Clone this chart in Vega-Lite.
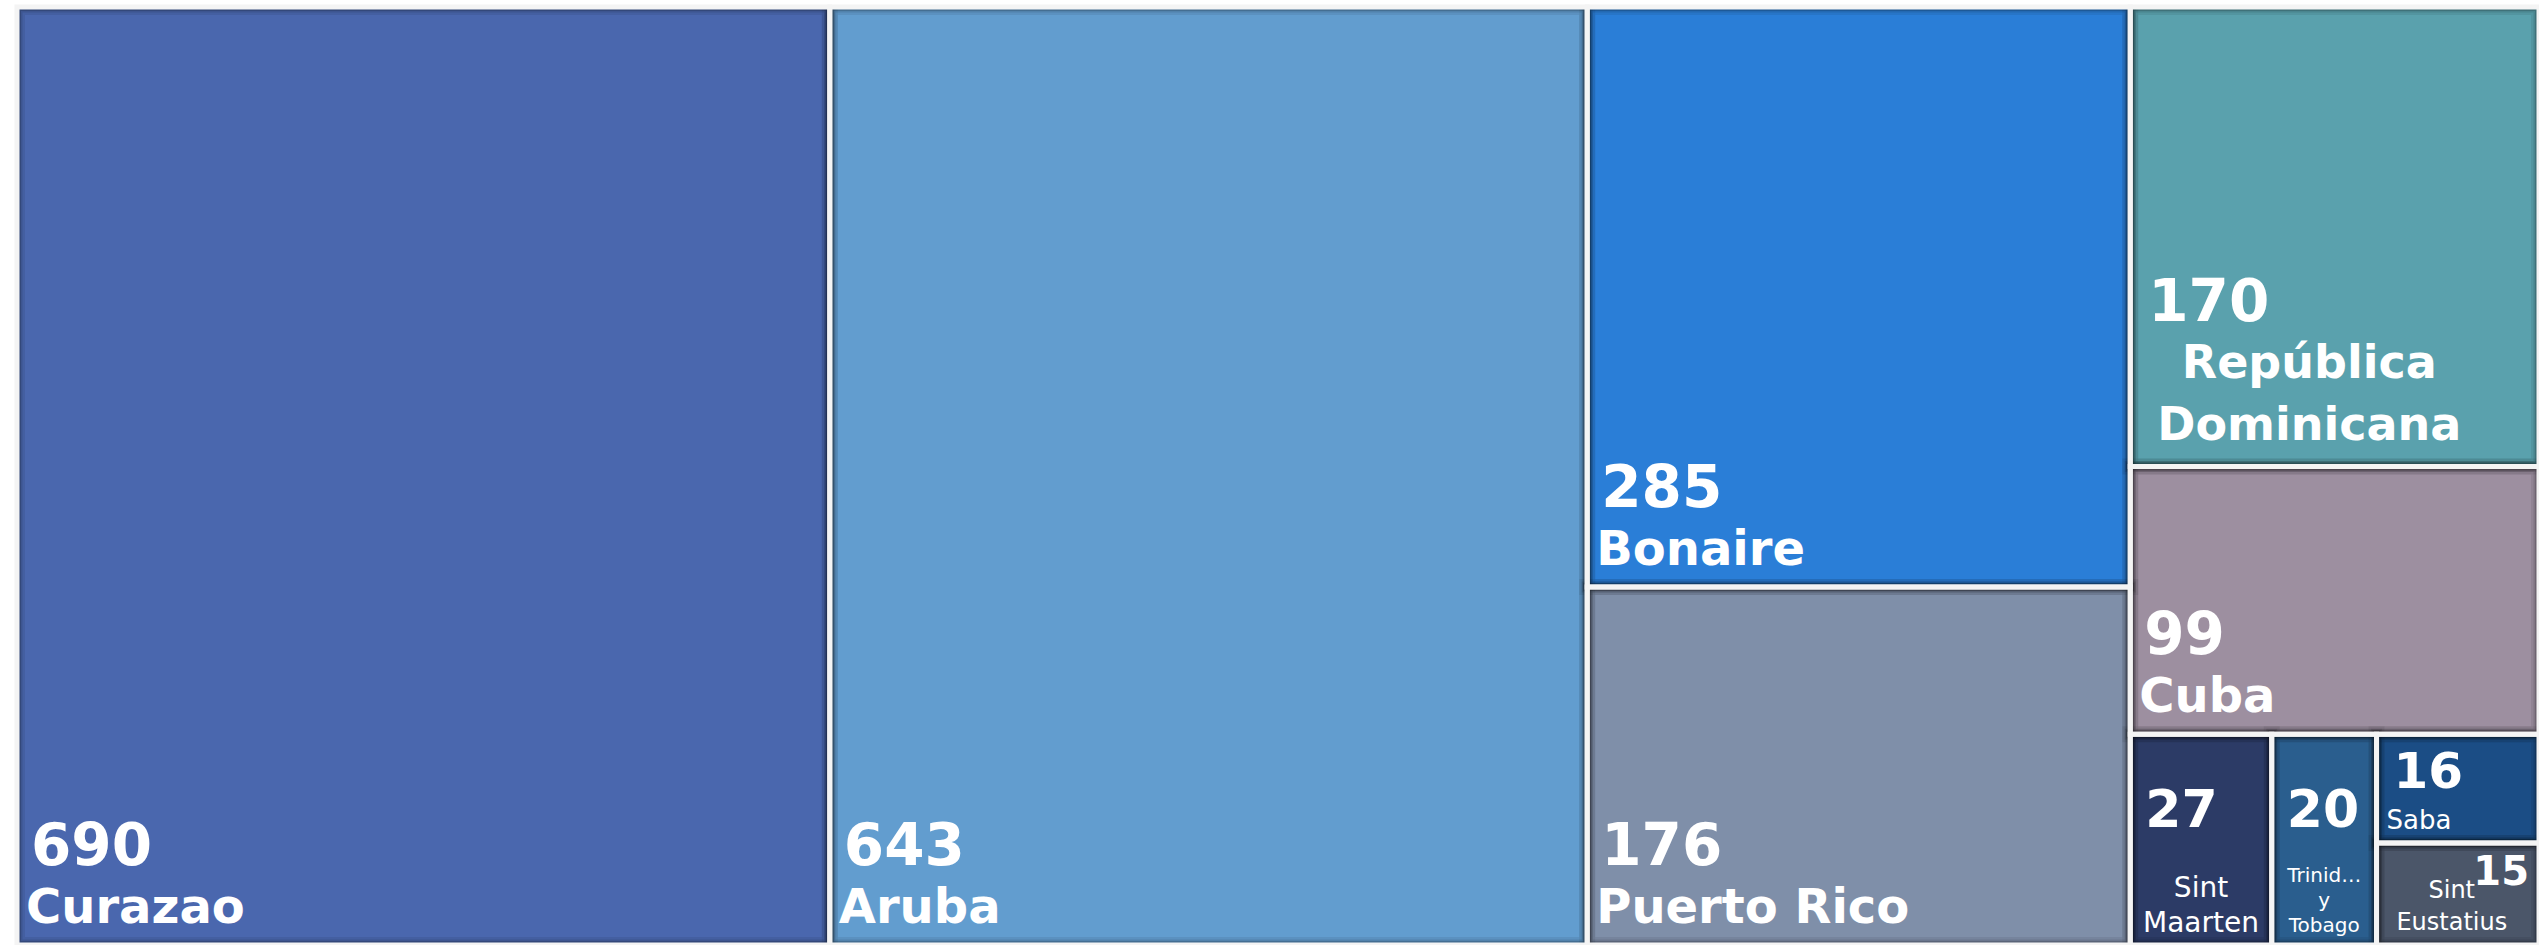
{
  "$schema": "https://vega.github.io/schema/vega-lite/v6.json",
  "width": 2522,
  "height": 938,
  "padding": {"left": 17, "top": 7, "right": 0, "bottom": 0},
  "autosize": {"type": "none"},
  "background": "white",
  "config": {"view": {"stroke": null}, "text": {"font": "DejaVu Sans", "color": "white"}},
  "data": {
    "values": [
      {"name": "Curazao", "value": 690, "col": 1, "grp": 1, "sub": 1, "cell": 1},
      {"name": "Aruba", "value": 643, "col": 2, "grp": 1, "sub": 1, "cell": 1},
      {"name": "Bonaire", "value": 285, "col": 3, "grp": 1, "sub": 1, "cell": 1},
      {"name": "Puerto Rico", "value": 176, "col": 3, "grp": 2, "sub": 1, "cell": 1},
      {"name": "República Dominicana", "value": 170, "col": 4, "grp": 1, "sub": 1, "cell": 1},
      {"name": "Cuba", "value": 99, "col": 4, "grp": 2, "sub": 1, "cell": 1},
      {"name": "Sint Maarten", "value": 27, "col": 4, "grp": 3, "sub": 1, "cell": 1},
      {"name": "Trinidad y Tobago", "value": 20, "col": 4, "grp": 3, "sub": 2, "cell": 1},
      {"name": "Saba", "value": 16, "col": 4, "grp": 3, "sub": 3, "cell": 1},
      {"name": "Sint Eustatius", "value": 15, "col": 4, "grp": 3, "sub": 3, "cell": 2}
    ]
  },
  "transform": [
    {"window": [{"op": "sum", "field": "value", "as": "cumAll"}], "sort": [{"field": "col"}, {"field": "grp"}, {"field": "sub"}, {"field": "cell"}], "frame": [null, 0]},
    {"joinaggregate": [{"op": "sum", "field": "value", "as": "A"}, {"op": "max", "field": "cumAll", "as": "aEnd"}], "groupby": ["col"]},
    {"window": [{"op": "sum", "field": "value", "as": "cumA"}], "groupby": ["col"], "sort": [{"field": "grp"}, {"field": "sub"}, {"field": "cell"}], "frame": [null, 0]},
    {"joinaggregate": [{"op": "sum", "field": "value", "as": "B"}, {"op": "max", "field": "cumA", "as": "bEnd"}], "groupby": ["col", "grp"]},
    {"window": [{"op": "sum", "field": "value", "as": "cumB"}], "groupby": ["col", "grp"], "sort": [{"field": "sub"}, {"field": "cell"}], "frame": [null, 0]},
    {"joinaggregate": [{"op": "sum", "field": "value", "as": "C"}, {"op": "max", "field": "cumB", "as": "cEnd"}], "groupby": ["col", "grp", "sub"]},
    {"window": [{"op": "sum", "field": "value", "as": "cumC"}], "groupby": ["col", "grp", "sub"], "sort": [{"field": "cell"}], "frame": [null, 0]},
    {"calculate": "datum.aEnd - datum.A", "as": "xa0"},
    {"calculate": "(datum.bEnd - datum.B) / datum.A", "as": "yb0"},
    {"calculate": "datum.bEnd / datum.A", "as": "yb1"},
    {"calculate": "datum.xa0 + datum.A * (datum.cEnd - datum.C) / datum.B", "as": "x0"},
    {"calculate": "datum.xa0 + datum.A * datum.cEnd / datum.B", "as": "x1"},
    {"calculate": "(datum.x0 + datum.x1) / 2", "as": "xm"},
    {"calculate": "datum.yb0 + (datum.yb1 - datum.yb0) * (datum.cumC - datum.value) / datum.C", "as": "y0"},
    {"calculate": "datum.yb0 + (datum.yb1 - datum.yb0) * datum.cumC / datum.C", "as": "y1"}
  ],
  "encoding": {
    "x": {"field": "x0", "type": "quantitative", "scale": {"nice": false, "zero": true}, "axis": null},
    "y": {"field": "y0", "type": "quantitative", "scale": {"nice": false, "reverse": true, "domain": [0, 1]}, "axis": null}
  },
  "layer": [
    {
      "mark": {"type": "rect", "strokeWidth": 0},
      "encoding": {
        "x2": {"field": "x1"},
        "y2": {"field": "y1"},
        "color": {
          "field": "name", "type": "nominal", "legend": null,
          "scale": {
            "domain": ["Curazao", "Aruba", "Bonaire", "Puerto Rico", "República Dominicana", "Cuba", "Sint Maarten", "Trinidad y Tobago", "Saba", "Sint Eustatius"],
            "range": ["#4A67AE", "#629DCF", "#2A7ED7", "#7F8FA9", "#5AA1AD", "#9D8FA0", "#2C3B66", "#2A5E8E", "#1B4D85", "#4B5669"]
          }
        }
      }
    },
    {
      "mark": {"type": "rect", "filled": false, "stroke": "#000000", "strokeOpacity": 0.07, "strokeWidth": 16, "clip": true},
      "encoding": {"x2": {"field": "x1"}, "y2": {"field": "y1"}}
    },
    {
      "mark": {"type": "rect", "filled": false, "stroke": "#000000", "strokeOpacity": 0.1, "strokeWidth": 11, "clip": true},
      "encoding": {"x2": {"field": "x1"}, "y2": {"field": "y1"}}
    },
    {
      "mark": {"type": "rect", "filled": false, "stroke": "#000000", "strokeOpacity": 0.15, "strokeWidth": 8, "clip": true},
      "encoding": {"x2": {"field": "x1"}, "y2": {"field": "y1"}}
    },
    {
      "mark": {"type": "rect", "filled": false, "stroke": "#f4f4f4", "strokeWidth": 5},
      "encoding": {"x2": {"field": "x1"}, "y2": {"field": "y1"}}
    },
    {
      "transform": [{"filter": "datum.value >= 90 && datum.name != 'República Dominicana'"}],
      "mark": {"type": "text", "align": "left", "baseline": "alphabetic", "fontWeight": "bold", "fontSize": 58, "dx": 14, "dy": -80},
      "encoding": {"y": {"field": "y1", "type": "quantitative"}, "text": {"field": "value", "type": "quantitative"}}
    },
    {
      "transform": [{"filter": "datum.value >= 90 && datum.name != 'República Dominicana'"}],
      "mark": {"type": "text", "align": "left", "baseline": "alphabetic", "fontWeight": "bold", "fontSize": 48, "dx": 9, "dy": -22},
      "encoding": {"y": {"field": "y1", "type": "quantitative"}, "text": {"field": "name", "type": "nominal"}}
    },
    {
      "transform": [{"filter": "datum.name == 'República Dominicana'"}],
      "mark": {"type": "text", "align": "left", "baseline": "alphabetic", "fontWeight": "bold", "fontSize": 58, "dx": 18, "dy": -146},
      "encoding": {"y": {"field": "y1", "type": "quantitative"}, "text": {"field": "value", "type": "quantitative"}}
    },
    {
      "transform": [{"filter": "datum.name == 'República Dominicana'"}],
      "mark": {"type": "text", "align": "center", "baseline": "alphabetic", "fontWeight": "bold", "fontSize": 46, "lineHeight": 62, "lineBreak": " ", "dx": 179, "dy": -89},
      "encoding": {"y": {"field": "y1", "type": "quantitative"}, "text": {"field": "name", "type": "nominal"}}
    },
    {
      "transform": [{"filter": "datum.name == 'Sint Maarten' || datum.name == 'Trinidad y Tobago'"}],
      "mark": {"type": "text", "align": "left", "baseline": "alphabetic", "fontWeight": "bold", "fontSize": 52, "dx": 15, "dy": -118},
      "encoding": {"y": {"field": "y1", "type": "quantitative"}, "text": {"field": "value", "type": "quantitative"}}
    },
    {
      "transform": [{"filter": "datum.name == 'Saba'"}],
      "mark": {"type": "text", "align": "left", "baseline": "alphabetic", "fontWeight": "bold", "fontSize": 50, "dx": 17, "dy": -55},
      "encoding": {"y": {"field": "y1", "type": "quantitative"}, "text": {"field": "value", "type": "quantitative"}}
    },
    {
      "transform": [{"filter": "datum.name == 'Saba'"}],
      "mark": {"type": "text", "align": "left", "baseline": "alphabetic", "fontSize": 26, "dx": 10, "dy": -14},
      "encoding": {"y": {"field": "y1", "type": "quantitative"}, "text": {"field": "name", "type": "nominal"}}
    },
    {
      "transform": [{"filter": "datum.name == 'Sint Eustatius'"}],
      "mark": {"type": "text", "align": "right", "baseline": "alphabetic", "fontWeight": "bold", "fontSize": 40, "dx": -10, "dy": -60},
      "encoding": {"x": {"field": "x1", "type": "quantitative"}, "y": {"field": "y1", "type": "quantitative"}, "text": {"field": "value", "type": "quantitative"}}
    },
    {
      "transform": [{"filter": "datum.name == 'Sint Maarten'"}],
      "mark": {"type": "text", "align": "center", "baseline": "alphabetic", "fontSize": 28, "lineHeight": 35, "lineBreak": " ", "dy": -48},
      "encoding": {"x": {"field": "xm", "type": "quantitative"}, "y": {"field": "y1", "type": "quantitative"}, "text": {"field": "name", "type": "nominal"}}
    },
    {
      "transform": [{"filter": "datum.name == 'Trinidad y Tobago'"}],
      "mark": {"type": "text", "align": "center", "baseline": "alphabetic", "fontSize": 20, "lineHeight": 25, "lineBreak": " ", "limit": 78, "dy": -63},
      "encoding": {"x": {"field": "xm", "type": "quantitative"}, "y": {"field": "y1", "type": "quantitative"}, "text": {"field": "name", "type": "nominal"}}
    },
    {
      "transform": [{"filter": "datum.name == 'Sint Eustatius'"}],
      "mark": {"type": "text", "align": "center", "baseline": "alphabetic", "fontSize": 24, "lineHeight": 32, "lineBreak": " ", "dx": -6, "dy": -47},
      "encoding": {"x": {"field": "xm", "type": "quantitative"}, "y": {"field": "y1", "type": "quantitative"}, "text": {"field": "name", "type": "nominal"}}
    }
  ]
}
